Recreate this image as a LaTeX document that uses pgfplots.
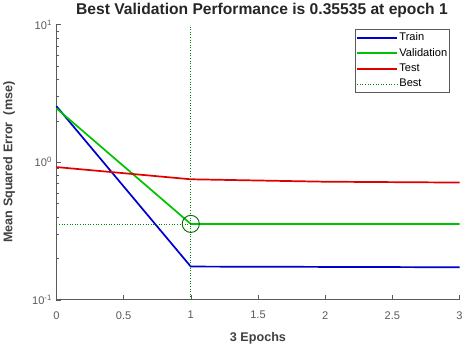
\documentclass[border=0pt]{standalone}
\usepackage{pgfplots}
\pgfplotsset{compat=1.18}
\usepackage{fontspec}
\setmainfont{Liberation Sans}
\definecolor{mblue}{RGB}{0,0,205}
\definecolor{mgreen}{RGB}{0,195,0}
\definecolor{mred}{RGB}{225,0,0}
\definecolor{mgray}{RGB}{90,90,90}
\begin{document}
\begin{tikzpicture}
\begin{axis}[
  scale only axis,
  width=400pt, height=273pt,
  xmin=0, xmax=3, ymode=log, ymin=0.1, ymax=10,
  axis lines=left,
  axis line style={mgray,-,line width=0.9pt},
  xtick={0,0.5,...,3},
  xticklabels={0,0.5,1,1.5,2,2.5,3},
  ytick={0.1,1,10},
  minor ytick={0.2,0.3,0.4,0.5,0.6,0.7,0.8,0.9,2,3,4,5,6,7,8,9},
  yticklabels={10\textsuperscript{-1},10\textsuperscript{0},10\textsuperscript{1}},
  tick style={mgray},
  major tick length=5pt, minor tick length=3pt,
  tick align=inside,
  ticklabel style={font=\fontsize{11}{13}\selectfont, text=mgray},
  xticklabel style={yshift=-8pt},
  yticklabel style={xshift=-1pt},
  title={\bfseries Best Validation Performance is 0.35535 at epoch 1},
  title style={font=\fontsize{15.5}{17}\selectfont, yshift=-3pt, xshift=4pt, text=black!85},
  xlabel={\bfseries 3 Epochs},
  ylabel={\bfseries Mean Squared Error\ \ (mse)},
  label style={font=\fontsize{12.5}{14}\selectfont, text=black!75},
  xlabel style={yshift=-6pt},
  ylabel style={yshift=10pt},
  legend style={font=\fontsize{11}{12.5}\selectfont, draw=mgray, row sep=2pt, inner xsep=1pt, inner ysep=2pt,
    nodes={inner xsep=1pt}, at={(0.975,0.985)}, anchor=north east},
  legend cell align=left,
  legend image code/.code={\draw[#1] (0cm,0cm) -- (1.4cm,0cm);},
  clip=false,
]
\addlegendimage{draw=mblue, line width=2pt}
\addlegendentry{Train}
\addlegendimage{draw=mgreen, line width=2pt}
\addlegendentry{Validation}
\addlegendimage{draw=mred, line width=2pt}
\addlegendentry{Test}
\addlegendimage{draw=mgreen!70!black, dotted, line width=0.6pt}
\addlegendentry{Best}
\addplot[mblue, line width=1.7pt, forget plot] coordinates {(0,2.55) (1,0.174) (2,0.173) (3,0.172)};
\addplot[mgreen, line width=1.7pt, forget plot] coordinates {(0,2.46) (1,0.355) (2,0.355) (3,0.355)};
\addplot[mred, line width=1.7pt, forget plot] coordinates {(0,0.92) (1,0.75) (2,0.72) (3,0.71)};
\addplot[mgreen!70!black, dotted, line width=0.6pt, forget plot] coordinates {(1,0.1) (1,10)};
\addplot[mgreen!70!black, dotted, line width=0.6pt, forget plot] coordinates {(0,0.35535) (1,0.35535)};
\addplot[only marks, mark=o, mark size=8.5pt, mgreen!55!black, line width=0.9pt, forget plot] coordinates {(1,0.35535)};
\end{axis}
\end{tikzpicture}
\end{document}
